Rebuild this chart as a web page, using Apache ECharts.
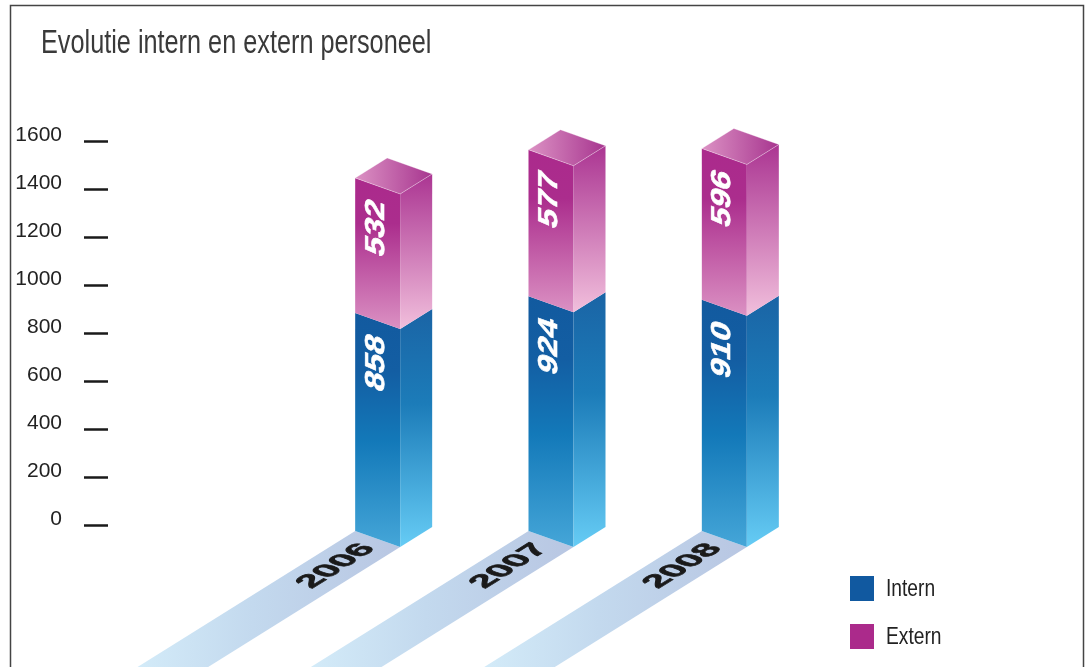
<!DOCTYPE html>
<html>
<head>
<meta charset="utf-8">
<title>Evolutie intern en extern personeel</title>
<script src="https://cdn.jsdelivr.net/npm/echarts@6/dist/echarts.min.js"></script>
<style>html,body{margin:0;padding:0;background:#fff}#chart{width:1092px;height:667px}</style>
</head>
<body>
<div id="chart"></div>
<script>
const years = ['2006', '2007', '2008'];
const intern = [858, 924, 910];
const extern = [532, 577, 596];
const seriesNames = ['Intern', 'Extern'];
const seriesColors = ['#1159a0', '#ab2a8b'];
const titleText = 'Evolutie intern en extern personeel';

const sans = '"Liberation Sans",Arial,sans-serif';

// Isometric box: width and rise of the front and side faces, in pixels.
const FRONT = [45, 16];
const SIDE = [32, -20];
const FRONT_UNIT = [0.942, 0.335];
const SIDE_UNIT = [0.848, -0.53];
const { LinearGradient } = echarts.graphic;

const vGrad = stops => new LinearGradient(0, 0, 0, 1, stops.map(c => ({ offset: c[0], color: c[1] })));

const INTERN_FACES = {
  front: vGrad([[0, '#125a9f'], [0.25, '#135ea3'], [0.55, '#1379b9'], [1, '#45a6d8']]),
  side: vGrad([[0, '#1a64a5'], [0.4, '#1c7cb9'], [1, '#66ccf5']])
};
const EXTERN_FACES = {
  front: vGrad([[0, '#ab2a8c'], [0.3, '#ab2d8d'], [1, '#db91c3']]),
  side: vGrad([[0, '#ab3592'], [1, '#f1bfdc']]),
  top: new LinearGradient(0, 0, 1, 0, [
    { offset: 0, color: '#dc92c4' },
    { offset: 1, color: '#a7358f' }
  ])
};

// Decomposes a 2x2 basis into rotate-scale-rotate so nested groups can shear text.
function shearedText(x, y, u, v, style) {
  const [a, b] = u, [c, d] = v;
  const E = (a + d) / 2, F = (a - d) / 2, G = (b + c) / 2, H = (b - c) / 2;
  const Q = Math.hypot(E, H), R = Math.hypot(F, G);
  const a1 = Math.atan2(G, F), a2 = Math.atan2(H, E);
  return {
    type: 'group', x, y,
    rotation: -(a2 + a1) / 2,
    scaleX: Q + R, scaleY: Q - R,
    children: [{
      type: 'text',
      rotation: -(a2 - a1) / 2,
      style: Object.assign({ x: 0, y: 0, align: 'center', verticalAlign: 'middle' }, style)
    }]
  };
}

function poly(points, fill, extra) {
  return Object.assign({ type: 'polygon', shape: { points }, style: { fill } }, extra || {});
}

function renderBox(faces, label, params, api) {
  const low = api.coord([api.value(0), api.value(1)]);
  const high = api.coord([api.value(0), api.value(2)]);
  const left = low[0] - FRONT[0] / 2;
  const yLow = low[1], yHigh = high[1];
  const fl = [left, yHigh], fr = [left + FRONT[0], yHigh + FRONT[1]];
  const bl = [left, yLow], br = [left + FRONT[0], yLow + FRONT[1]];
  const sr = [fr[0] + SIDE[0], fr[1] + SIDE[1]];
  const slr = [br[0] + SIDE[0], br[1] + SIDE[1]];
  const children = [
    poly([fl, fr, br, bl], faces.front),
    poly([fr, sr, slr, br], faces.side)
  ];
  if (faces.top) {
    const back = [fl[0] + SIDE[0], fl[1] + SIDE[1]];
    children.push(poly([fl, fr, sr, back], faces.top, {
      style: { fill: faces.top, stroke: 'rgba(255,255,255,0.55)', lineWidth: 0.6 }
    }));
  }
  children.push(shearedText(left + 21, yHigh + 50, [0, -1.14], FRONT_UNIT, {
    text: String(label[params.dataIndex]),
    fill: '#ffffff',
    stroke: '#ffffff',
    lineWidth: 0.6,
    font: 'bold 29px ' + sans
  }));
  return { type: 'group', children };
}

function renderFloor(params, api) {
  const base = api.coord([api.value(0), 0]);
  const a = [base[0] - FRONT[0] / 2, base[1]];
  const b = [a[0] + FRONT[0], a[1] + FRONT[1]];
  const run = 7;
  const strip = [a, b,
    [b[0] - SIDE[0] * run, b[1] - SIDE[1] * run],
    [a[0] - SIDE[0] * run, a[1] - SIDE[1] * run]];
  return {
    type: 'group',
    children: [
      poly(strip, new LinearGradient(1, 0, 0, 0, [
        { offset: 0, color: '#b8c6e2' },
        { offset: 0.55, color: '#c3d9ee' },
        { offset: 1, color: '#d4ecf9' }
      ])),
      shearedText(a[0] - 19, a[1] + 35, SIDE_UNIT.map(n => n * 1.15), FRONT_UNIT, {
        text: years[params.dataIndex],
        fill: '#1a1a1a',
        stroke: '#1a1a1a',
        lineWidth: 0.9,
        font: 'bold 30px ' + sans
      })
    ]
  };
}

const internData = years.map((y, i) => [i, 0, intern[i]]);
const externData = years.map((y, i) => [i, intern[i], intern[i] + extern[i]]);

// Condensed legend and title text: no narrow face is available, so the regular face is squeezed.
const legendGraphics = seriesNames.flatMap((name, i) => [
  {
    type: 'rect', silent: true,
    shape: { x: 850, y: 576 + i * 48, width: 24, height: 25 },
    style: { fill: seriesColors[i] }
  },
  {
    type: 'text', silent: true, x: 886, y: 589 + i * 48, scaleX: 0.8,
    style: { text: name, font: '24px ' + sans, fill: '#222222', verticalAlign: 'middle' }
  }
]);

const chart = echarts.init(document.getElementById('chart'), null, { renderer: 'canvas' });
chart.setOption({
  animation: false,
  backgroundColor: '#ffffff',
  graphic: [
    {
      type: 'rect',
      shape: { x: 10.5, y: 5.5, width: 1073, height: 700 },
      style: { fill: 'none', stroke: '#444444', lineWidth: 1.5 },
      silent: true, z: -1
    },
    {
      type: 'text', silent: true, x: 41, y: 44, scaleX: 0.743,
      style: { text: titleText, font: '34px ' + sans, fill: '#3a3a3a', verticalAlign: 'middle' }
    }
  ].concat(legendGraphics),
  grid: [
    { left: 108, top: 141, width: 100, height: 384 },
    { left: 291, top: 124.6, width: 520, height: 406.4 }
  ],
  xAxis: [
    { gridIndex: 0, type: 'category', data: years, show: false },
    { gridIndex: 1, type: 'category', data: years, show: false }
  ],
  yAxis: [
    {
      gridIndex: 0, type: 'value', min: 0, max: 1600, interval: 200,
      splitLine: { show: false },
      axisLine: { show: false },
      axisTick: { show: true, length: 24, lineStyle: { color: '#1a1a1a', width: 2.5 } },
      axisLabel: {
        margin: 46, fontFamily: sans, fontSize: 21, color: '#222222',
        formatter: v => String(v),
        verticalAlign: 'bottom', lineHeight: 12
      }
    },
    { gridIndex: 1, type: 'value', min: 0, max: 1600, show: false, splitLine: { show: false } }
  ],
  series: [
    {
      name: 'Vloer', type: 'custom', xAxisIndex: 1, yAxisIndex: 1, silent: true, z: 1,
      data: internData, encode: { x: 0, y: [1, 2] },
      renderItem: renderFloor
    },
    {
      name: seriesNames[0], type: 'custom', xAxisIndex: 1, yAxisIndex: 1, silent: true, z: 2,
      itemStyle: { color: seriesColors[0] },
      data: internData, encode: { x: 0, y: [1, 2] },
      renderItem: (p, api) => renderBox(INTERN_FACES, intern, p, api)
    },
    {
      name: seriesNames[1], type: 'custom', xAxisIndex: 1, yAxisIndex: 1, silent: true, z: 3,
      itemStyle: { color: seriesColors[1] },
      data: externData, encode: { x: 0, y: [1, 2] },
      renderItem: (p, api) => renderBox(EXTERN_FACES, extern, p, api)
    }
  ]
});
</script>
</body>
</html>
